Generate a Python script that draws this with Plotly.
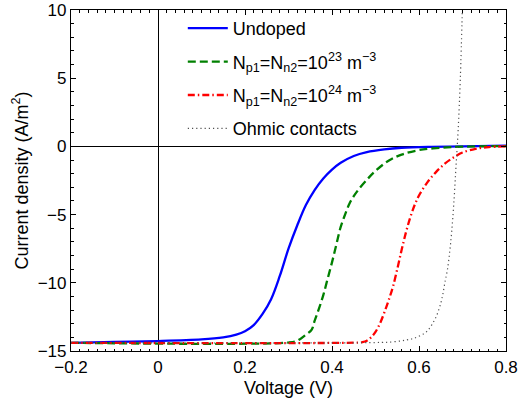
import plotly.graph_objects as go

# ---- data ----
v_undoped = [-0.2, -0.1, 0.0, 0.1, 0.15, 0.18, 0.2, 0.22, 0.24, 0.26, 0.28, 0.30, 0.32,
             0.34, 0.36, 0.38, 0.40, 0.42, 0.45, 0.48, 0.52, 0.56, 0.62, 0.7, 0.8]
j_undoped = [-14.4, -14.33, -14.27, -14.15, -14.0, -13.8, -13.55, -13.1, -12.3, -11.2, -9.5,
             -7.5, -5.8, -4.3, -3.2, -2.35, -1.7, -1.2, -0.7, -0.42, -0.22, -0.1, -0.03, 0.0, 0.05]

v_23 = [-0.2, 0.30, 0.32, 0.34, 0.353, 0.36, 0.37, 0.38, 0.39, 0.40, 0.41, 0.42, 0.43, 0.44,
        0.45, 0.46, 0.48, 0.50, 0.53, 0.56, 0.60, 0.65, 0.70, 0.8]
j_23 = [-14.4, -14.38, -14.25, -13.8, -13.45, -12.8, -11.9, -10.9, -9.7, -8.5, -7.2, -5.9,
        -5.0, -4.2, -3.65, -3.2, -2.45, -1.8, -1.05, -0.6, -0.27, -0.1, -0.02, 0.02]

v_24 = [-0.2, 0.46, 0.47, 0.48, 0.49, 0.50, 0.51, 0.52, 0.53, 0.54, 0.55, 0.56, 0.57, 0.58,
        0.59, 0.60, 0.62, 0.64, 0.66, 0.68, 0.70, 0.73, 0.76, 0.8]
j_24 = [-14.4, -14.38, -14.35, -14.25, -14.0, -13.6, -13.0, -12.2, -11.3, -10.3, -9.0, -7.6,
        -6.3, -5.2, -4.3, -3.6, -2.6, -1.85, -1.25, -0.8, -0.45, -0.18, -0.05, 0.0]

v_ohmic = [-0.2, 0.5, 0.54, 0.57, 0.59, 0.61, 0.62, 0.63, 0.64, 0.65, 0.655, 0.66, 0.665,
           0.67, 0.675, 0.68, 0.685, 0.69, 0.695, 0.70]
j_ohmic = [-14.4, -14.38, -14.33, -14.2, -14.05, -13.75, -13.5, -13.05, -12.45, -11.5, -10.8,
           -9.9, -9.1, -7.9, -6.3, -4.2, -1.5, 1.2, 5.0, 10.5]

names = ["Undoped",
         "N<sub>p1</sub>=N<sub>n2</sub>=10<sup>23</sup> m<sup>\u22123</sup>",
         "N<sub>p1</sub>=N<sub>n2</sub>=10<sup>24</sup> m<sup>\u22123</sup>",
         "Ohmic contacts"]

x_range = [-0.2, 0.8]
y_range = [-15, 10]

FONT = "Liberation Sans, Arial, Helvetica, sans-serif"

fig = go.Figure()
series = [
    (v_undoped, j_undoped, dict(color="rgb(0,0,255)", width=2.3, dash="solid")),
    (v_23, j_23, dict(color="rgb(0,128,0)", width=2.3, dash="8px,4px")),
    (v_24, j_24, dict(color="rgb(255,0,0)", width=2.3, dash="7px,3px,1.5px,3px")),
    (v_ohmic, j_ohmic, dict(color="rgb(80,80,80)", width=1.2, dash="1.2px,3px")),
]
for i, ((xs, ys, ln), nm) in enumerate(zip(series, names)):
    fig.add_trace(go.Scatter(x=xs, y=ys, mode="lines", name=nm, line=ln,
                             line_shape="spline", legendgroup=f"g{i}"))

tickfont = dict(family=FONT, size=17, color="black")

fig.update_layout(
    width=518, height=403,
    margin=dict(l=71, r=12, t=10, b=52),
    paper_bgcolor="white", plot_bgcolor="white",
    font=dict(family=FONT, size=18, color="black"),
    xaxis=dict(range=x_range, tickmode="linear", tick0=0, dtick=0.2,
               ticks="inside", ticklen=5, tickwidth=1, tickcolor="black",
               showline=True, linecolor="black", linewidth=1.2, mirror="ticks",
               showgrid=False, zeroline=True, zerolinecolor="black", zerolinewidth=1,
               tickfont=tickfont, automargin=False,
               title=dict(text="Voltage (V)", font=dict(family=FONT, size=18), standoff=5)),
    yaxis=dict(range=y_range, tickmode="linear", tick0=0, dtick=5,
               ticks="inside", ticklen=5, tickwidth=1, tickcolor="black",
               showline=True, linecolor="black", linewidth=1.2, mirror="ticks",
               showgrid=False, zeroline=True, zerolinecolor="black", zerolinewidth=1,
               tickfont=tickfont, automargin=False,
               title=dict(text="Current density (A/m<sup>2</sup>)",
                          font=dict(family=FONT, size=18), standoff=4)),
    # overlay axes only for the minor ticks
    xaxis2=dict(range=x_range, overlaying="x", anchor="y", side="bottom",
                tickmode="linear", tick0=0, dtick=0.02, ticks="inside", ticklen=2.5,
                tickwidth=1, tickcolor="black", showticklabels=False, mirror="ticks",
                showline=False, showgrid=False, zeroline=False, automargin=False),
    yaxis2=dict(range=y_range, overlaying="y", anchor="x", side="left",
                tickmode="linear", tick0=0, dtick=1, ticks="inside", ticklen=2.5,
                tickwidth=1, tickcolor="black", showticklabels=False, mirror="ticks",
                showline=False, showgrid=False, zeroline=False, automargin=False),
    legend=dict(x=0.257, y=1.0, xanchor="left", yanchor="top",
                bgcolor="rgba(0,0,0,0)", borderwidth=0,
                font=dict(family=FONT, size=18, color="black"),
                traceorder="grouped", tracegroupgap=7, itemwidth=40),
    showlegend=True,
)

# invisible helper trace so the overlay axes are drawn
fig.add_trace(go.Scatter(x=x_range, y=y_range, xaxis="x2", yaxis="y2", mode="lines",
                         line=dict(width=0), opacity=0, showlegend=False, hoverinfo="skip"))

fig.write_html("out.html", config={"displayModeBar": False},
               post_script="document.body.style.margin='0';")
